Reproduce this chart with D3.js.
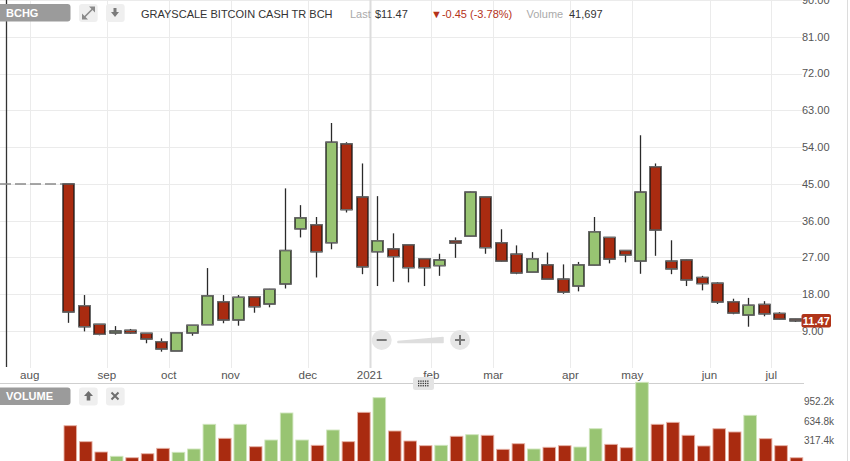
<!DOCTYPE html>
<html><head><meta charset="utf-8">
<script src="https://cdn.jsdelivr.net/npm/d3@7"></script>
<style>body{margin:0;background:#fff}svg{display:block;font-family:"Liberation Sans",Arial,Helvetica,sans-serif}</style>
</head><body><svg id="c" width="850" height="461"></svg>
<script>
// ---- data (weekly candles, BCHG) ----
const startWeek = "2020-08-17";
const openV  = [45,15.2,10.64,8.51,9.17,8.44,6.38,4.11,8.51,10.54,16.16,11.69,17.39,15.6,20.5,34.0,35.0,30.6,54.8,41.8,28.4,29.1,30.1,26.7,25.0,31.1,32.2,41.8,30.6,27.8,23.4,25.2,21.7,20.0,25.1,31.9,28.7,26.1,49.2,26.1,26.4,22.1,20.7,16.16,12.9,15.5,13.3,11.93];
const highV  = [45,17.8,10.7,10.2,9.5,8.5,7.2,8.6,10.4,24.4,17.8,17.8,17.5,19.3,43.9,39.8,36.9,59.9,55.2,50.0,42.0,32.9,30.1,26.7,27.9,31.9,43.1,41.8,33.9,29.95,28.3,28.2,25.3,25.9,36.9,31.9,28.8,56.9,50.0,31.2,26.5,22.5,20.9,16.9,17.1,16.3,13.6,11.95];
const lowV   = [11.0,8.9,7.95,8.1,8.27,6.0,3.94,4.1,7.85,10.5,10.9,10.3,13.47,14.8,19.4,31.9,22.1,29.0,38.0,22.9,20.0,21.05,20.9,20.0,22.5,26.9,32.0,27.9,25.9,22.9,23.4,21.7,18.1,18.7,24.9,25.55,25.8,23.0,27.4,22.9,20.0,18.95,15.6,13.1,10.05,12.6,11.8,11.2];
const closeV = [13.65,10.05,8.19,9.0,8.51,7.04,4.6,8.58,10.4,17.63,11.69,17.24,14.94,19.2,28.7,36.7,28.4,55.2,38.7,24.7,31.1,27.2,24.5,24.5,26.4,30.5,43.0,29.4,26.1,23.2,26.7,21.7,18.5,25.2,33.3,26.6,27.6,43.0,33.7,24.2,21.5,20.6,16.1,13.4,15.3,13.2,11.9,11.47];
const volumeK = [563,303,135,65,42,107,195,130,184,586,358,586,221,330,770,330,244,493,303,781,1019,477,314,238,244,391,417,407,179,270,184,212,238,216,514,260,205,1269.6,586,618,407,233,514,461,732,352,238,41.697];
const monthLabels = ["aug","sep","oct","nov","dec","2021","feb","mar","apr","may","jun","jul"];
const firstMonth = "2020-08-01";
const priceTicks = [9,18,27,36,45,54,63,72,81,90];
const volumeTicks = [317.4,634.8,952.2];
const volumeMax = 1269.6;
const prevClose = 45;
const lastPrice = 11.47;
const symbol = "BCHG";
const title = "GRAYSCALE BITCOIN CASH TR BCH";
const lastText = "$11.47";
const changeText = "\u25BC-0.45 (-3.78%)";
const volText = "41,697";

// ---- scales ----
const t0 = new Date(startWeek + "T00:00:00Z");
const dates = d3.utcMonday.range(t0, d3.utcMonday.offset(t0, openV.length));
const data = dates.map((d,i)=>({d, o:openV[i], h:highV[i], l:lowV[i], c:closeV[i], v:volumeK[i]}));
const x = d3.scaleUtc().domain([dates[0], dates[dates.length-1]]).range([68.3, 794.5]);
const step = x(dates[1]) - x(dates[0]);
const y = d3.scaleLinear().domain([9, 90]).range([331, 0]);
const vy = d3.scaleLinear().domain([0, volumeMax]).range([460.3, 382.3]);

const m0 = new Date(firstMonth + "T00:00:00Z");
const months = d3.utcMonth.range(m0, d3.utcMonth.offset(m0, monthLabels.length));
const monthGrid = months.map((m,i)=>({x: x(d3.utcMonday.ceil(m)) - step/2, label: monthLabels[i], year: m.getUTCMonth()===0}));

const RED = "#a92b10", GREEN = "#98c472";
const svg = d3.select("#c");

// ---- grid ----
const plotRight = 802;
svg.append("g").selectAll("line").data(priceTicks).join("line")
  .attr("x1",0).attr("x2",plotRight).attr("y1",d=>Math.round(y(d))+0.5).attr("y2",d=>Math.round(y(d))+0.5)
  .attr("stroke","#ebebeb").attr("stroke-width",1);
svg.append("g").selectAll("line").data(monthGrid).join("line")
  .attr("x1",d=>Math.round(d.x)+0.5).attr("x2",d=>Math.round(d.x)+0.5).attr("y1",0).attr("y2",368)
  .attr("stroke",d=>d.year?"#dcdcdc":"#ebebeb").attr("stroke-width",d=>d.year?2:1);

// left marker line
svg.append("line").attr("x1",6.5).attr("x2",6.5).attr("y1",0).attr("y2",367)
  .attr("stroke","#333").attr("stroke-width",1.3);

// previous close dashed line
svg.append("line").attr("x1",0).attr("x2",x(dates[0])-6).attr("y1",y(prevClose)).attr("y2",y(prevClose))
  .attr("stroke","#8a8a8a").attr("stroke-width",1.5).attr("stroke-dasharray","11,4");

// ---- candles ----
const bw = 11;
const cg = svg.append("g");
cg.selectAll("line.w").data(data).join("line").attr("class","w")
  .attr("x1",d=>Math.round(x(d.d))+0.5).attr("x2",d=>Math.round(x(d.d))+0.5)
  .attr("y1",d=>y(d.h)).attr("y2",d=>y(d.l)).attr("stroke","#2a2a2a").attr("stroke-width",1.3);
cg.selectAll("rect").data(data).join("rect")
  .attr("x",d=>Math.round(x(d.d))+0.5-bw/2).attr("width",bw)
  .attr("y",d=>y(Math.max(d.o,d.c))).attr("height",d=>Math.max(1.5, Math.abs(y(d.o)-y(d.c))))
  .attr("fill",d=>d.c>=d.o?GREEN:RED).attr("stroke","#1a1a1a").attr("stroke-width",1.3);
// gray caps
cg.selectAll("line.cap").data(data.flatMap(d=>[Math.max(d.o,d.c),Math.min(d.o,d.c)].map(v=>({d:d.d,v})))).join("line").attr("class","cap")
  .attr("x1",d=>Math.round(x(d.d))+0.5-bw/2-0.6).attr("x2",d=>Math.round(x(d.d))+0.5+bw/2+0.6)
  .attr("y1",d=>y(d.v)).attr("y2",d=>y(d.v)).attr("stroke","#6f6f6f").attr("stroke-width",1.3);

// ---- price axis labels ----
svg.append("g").selectAll("text").data(priceTicks).join("text")
  .attr("x",plotRight).attr("y",d=>y(d)).attr("dy","0.35em")
  .attr("font-size",11).attr("fill","#555").text(d=>d3.format(".2f")(d));

// last price tag
const ly = y(lastPrice);
svg.append("rect").attr("x",801.5).attr("y",ly-6.8).attr("width",29.5).attr("height",13.5).attr("rx",2)
  .attr("fill","#b03419");
svg.append("text").attr("x",816.3).attr("y",ly).attr("dy","0.36em").attr("text-anchor","middle")
  .attr("font-size",11).attr("font-weight","bold").attr("fill","#fff").text(d3.format(".2f")(lastPrice));

// ---- zoom control ----
const zc = svg.append("g");
zc.append("path").attr("d","M398,341.5 L398,342.5 L443,342.5 L443,337.5 Z").attr("fill","#dedede")
  .attr("stroke","#dedede").attr("stroke-width",1.5).attr("stroke-linejoin","round");
[[381.7,"-"],[460,"+"]].forEach(([cx,s])=>{
  zc.append("circle").attr("cx",cx).attr("cy",340).attr("r",10).attr("fill","#e6e6e6");
  zc.append("line").attr("x1",cx-5).attr("x2",cx+5).attr("y1",340).attr("y2",340).attr("stroke","#777").attr("stroke-width",2);
  if(s==="+") zc.append("line").attr("x1",cx).attr("x2",cx).attr("y1",335).attr("y2",345).attr("stroke","#777").attr("stroke-width",2);
});

// ---- month labels ----
svg.append("g").selectAll("text").data(monthGrid).join("text")
  .attr("x",d=>d.x).attr("y",375).attr("dy","0.35em").attr("text-anchor","middle")
  .attr("font-size",11.6).attr("fill","#555").text(d=>d.label);

// separator
svg.append("line").attr("x1",0).attr("x2",804).attr("y1",383.5).attr("y2",383.5).attr("stroke","#cfcfcf").attr("stroke-width",1);
// drag handle
svg.append("rect").attr("x",413).attr("y",377).attr("width",21).attr("height",13).attr("rx",2.5).attr("fill","#e4e4e4");
for(let r=0;r<3;r++) for(let c=0;c<5;c++)
  svg.append("rect").attr("x",418+c*2.3).attr("y",380.5+r*2.3).attr("width",1.3).attr("height",1.3).attr("fill","#333");

// ---- volume bars ----
svg.append("g").selectAll("rect").data(data).join("rect")
  .attr("x",d=>x(d.d)+2-6.3).attr("width",12.6)
  .attr("y",d=>vy(d.v)).attr("height",d=>vy(0)-vy(d.v)+2)
  .attr("fill",d=>d.c>=d.o?GREEN:RED)
  .attr("stroke",d=>d.c>=d.o?"#cfe5bd":"#e6b2a6").attr("stroke-width",0.9);

svg.append("g").selectAll("text").data(volumeTicks).join("text")
  .attr("x",804).attr("y",d=>vy(d)).attr("dy","0.35em")
  .attr("font-size",10).attr("fill","#555").text(d=>d3.format(".1f")(d)+"k");

// ---- header ----
function labelBox(yTop, txt){
  svg.append("rect").attr("x",-4).attr("y",yTop).attr("width",74.5).attr("height",17.5).attr("rx",3).attr("fill","#9b9b9b");
  svg.append("text").attr("x",6).attr("y",yTop+8.9).attr("dy","0.36em").attr("font-size",11).attr("font-weight","bold")
    .attr("fill","#fff").text(txt);
}
function btn(x0, yTop){
  svg.append("rect").attr("x",x0).attr("y",yTop).attr("width",18.7).attr("height",18).attr("rx",3).attr("fill","#efefef");
}
labelBox(4, symbol);
btn(79,4); btn(106,4);
// expand icon
svg.append("line").attr("x1",83.5).attr("x2",93.5).attr("y1",18).attr("y2",8).attr("stroke","#8a8a8a").attr("stroke-width",1.6);
svg.append("path").attr("d","M95,6.5 L89,6.5 L95,12.5 Z M82,19.5 L88,19.5 L82,13.5 Z").attr("fill","#8a8a8a");
// download arrow
svg.append("path").attr("d","M113.5,8 L116.5,8 L116.5,12 L119,12 L115,17 L111,12 L113.5,12 Z").attr("fill","#7a7a7a");

const hy = 14;
svg.append("text").attr("x",141).attr("y",hy).attr("dy","0.36em").attr("font-size",11).attr("fill","#333").text(title);
svg.append("text").attr("x",350).attr("y",hy).attr("dy","0.36em").attr("font-size",11).attr("fill","#aaa").text("Last");
svg.append("text").attr("x",375).attr("y",hy).attr("dy","0.36em").attr("font-size",11).attr("fill","#333").text(lastText);
svg.append("text").attr("x",431).attr("y",hy).attr("dy","0.36em").attr("font-size",11).attr("fill","#b5321a").text(changeText);
svg.append("text").attr("x",526.5).attr("y",hy).attr("dy","0.36em").attr("font-size",11).attr("fill","#aaa").text("Volume");
svg.append("text").attr("x",569).attr("y",hy).attr("dy","0.36em").attr("font-size",11).attr("fill","#333").text(volText);

// volume header
labelBox(387.5, "VOLUME");
btn(79,387.5); btn(106,387.5);
svg.append("path").attr("d","M88.5,391 L93,396 L90.3,396 L90.3,400.5 L86.7,400.5 L86.7,396 L84,396 Z").attr("fill","#6f6f6f");
svg.append("path").attr("d","M111.5,392.5 L118.5,399.5 M118.5,392.5 L111.5,399.5").attr("stroke","#6f6f6f").attr("stroke-width",2);

// right border
svg.append("line").attr("x1",847.5).attr("x2",847.5).attr("y1",0).attr("y2",461).attr("stroke","#dcdcdc");
</script></body></html>
